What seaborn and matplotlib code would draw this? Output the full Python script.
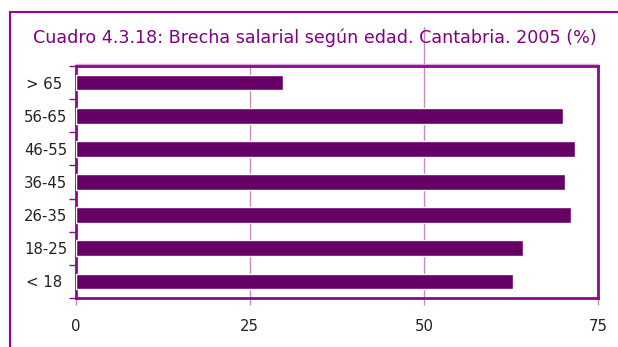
import matplotlib
matplotlib.use("Agg")
import matplotlib.pyplot as plt
import matplotlib.transforms as mtransforms
from matplotlib.patches import Rectangle
import seaborn as sns
import pandas as pd

# Wage gap by age group, Cantabria 2005 (%)
age_groups = ["> 65 ", "56-65", "46-55", "36-45", "26-35", "18-25", "< 18 "]
gap_pct = [29.8, 70.0, 71.7, 70.3, 71.1, 64.2, 62.8]
x_ticks = [0, 25, 50, 75]

df = pd.DataFrame({"grupo": age_groups, "brecha": gap_pct})

sns.set_theme(style="white")
plt.rcParams["font.family"] = ["DejaVu Sans"]

bar_color = "#660066"
frame_color = "#990099"
spine_color = "#8b0a8b"
grid_color = "#c88cbc"
text_color = "#222222"

fig = plt.figure(figsize=(6.18, 3.47), dpi=100)
fig.patch.set_facecolor("white")
ax = fig.add_axes([75.5 / 618, 1 - 298 / 347, (598 - 75.5) / 618, (298 - 66) / 347])

sns.barplot(data=df, x="brecha", y="grupo", orient="h", color=bar_color,
            saturation=1, width=0.47, ax=ax, zorder=3)

ax.set_xlim(0, 75)
ax.set_ylim(6.5, -0.5)
ax.set_xticks(x_ticks)
ax.set_xticklabels([str(t) for t in x_ticks], fontsize=10.7, color=text_color)
ax.set_xlabel("")
ax.set_ylabel("")

# category labels centered on bars, tick marks between categories
ax.set_yticks(range(len(age_groups)))
ax.set_yticklabels(age_groups, fontsize=10.7, color=text_color)
ax.tick_params(axis="y", which="major", length=0, pad=6)
ax.set_yticks([i + 0.5 for i in range(-1, len(age_groups))], minor=True)
ax.tick_params(axis="y", which="minor", left=True, length=5, width=1,
               color=spine_color, direction="out")
ax.tick_params(axis="x", which="major", bottom=True, length=5, width=1,
               color=grid_color, direction="out", pad=10)

# vertical gridlines
for v in [25, 50]:
    ax.axvline(v, color=grid_color, lw=1, zorder=1)
# the 50 gridline continues up through the title area
trans = mtransforms.blended_transform_factory(ax.transData, fig.transFigure)
ax.plot([50, 50], [1 - 66 / 347, 1 - 27 / 347], color=grid_color, lw=1,
        transform=trans, clip_on=False, zorder=1)

for side in ["left", "right", "top", "bottom"]:
    ax.spines[side].set_visible(True)
    ax.spines[side].set_color(spine_color)
    ax.spines[side].set_linewidth(2)

# light line just above the plot area
ax.plot([0, 1], [1.008, 1.008], transform=ax.transAxes, color="#d8a8d0",
        lw=1, clip_on=False)

# outer frame of the figure
fig.patches.append(Rectangle((9.5 / 618, -0.2), 2, 1 - 11.5 / 347 + 0.2,
                             transform=fig.transFigure, fill=False,
                             edgecolor=frame_color, lw=1.5))

fig.text(315 / 618, 1 - 38 / 347,
         "Cuadro 4.3.18: Brecha salarial según edad. Cantabria. 2005 (%)",
         ha="center", va="center", fontsize=12.6, color="#800080")

fig.savefig("out.png", dpi=100, facecolor="white")
